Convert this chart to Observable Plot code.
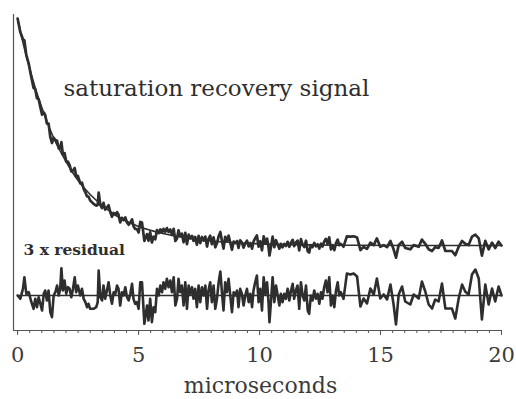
<!DOCTYPE html>
<html>
<head>
<meta charset="utf-8">
<script src="https://cdn.jsdelivr.net/npm/d3@7"></script>
<script src="https://cdn.jsdelivr.net/npm/@observablehq/plot@0.6"></script>
<style>
  html, body { margin: 0; padding: 0; background: #ffffff; }
  #chart svg { display: block; }
</style>
</head>
<body>
<div id="chart"></div>
<script>
// ---- data (arbitrary signal units; baseline 0) ----
// fitted exponential recovery curve (read at sample times)
const fitT = [0, 0.25, 0.5, 0.75, 1, 1.5, 2, 2.5, 3, 3.5, 4, 5, 6, 7, 8, 9, 10, 12, 14, 16, 18, 20];
const fitV = [227, 200, 177, 156, 138, 107, 84, 65, 51, 40, 31, 19, 12, 7.5, 4.5, 2.8, 1.6, 0.6, 0.2, 0, 0, 0];

// sample times (microseconds) shared by signal and residual
const times = [0, 0.11, 0.22, 0.28, 0.36, 0.46, 0.55, 0.66, 0.73, 0.80, 0.87, 0.94, 1.01, 1.08, 1.14, 1.21, 1.28, 1.35, 1.42, 1.49, 1.56, 1.63, 1.70, 1.76, 1.81, 1.87, 1.94, 2.01, 2.08, 2.15, 2.22, 2.29, 2.36, 2.42, 2.49, 2.59, 2.66, 2.73, 2.80, 2.87, 2.93, 3.00, 3.14, 3.25, 3.31, 3.35, 3.42, 3.49, 3.55, 3.62, 3.69, 3.76, 3.83, 3.90, 3.97, 4.04, 4.11, 4.17, 4.24, 4.31, 4.38, 4.45, 4.52, 4.59, 4.66, 4.73, 4.79, 4.86, 4.93, 5.00, 5.07, 5.14, 5.24, 5.35, 5.41, 5.48, 5.55, 5.62, 5.69, 5.76, 5.83, 5.90, 5.97, 6.03, 6.10, 6.17, 6.24, 6.31, 6.38, 6.45, 6.52, 6.59, 6.65, 6.72, 6.79, 6.86, 6.93, 7.00, 7.07, 7.14, 7.21, 7.27, 7.34, 7.41, 7.48, 7.55, 7.62, 7.69, 7.76, 7.83, 7.89, 7.96, 8.03, 8.10, 8.17, 8.24, 8.31, 8.38, 8.45, 8.51, 8.58, 8.65, 8.72, 8.79, 8.86, 8.93, 9.00, 9.07, 9.13, 9.20, 9.27, 9.34, 9.41, 9.48, 9.55, 9.62, 9.69, 9.75, 9.82, 9.89, 9.96, 10.03, 10.10, 10.17, 10.24, 10.31, 10.37, 10.41, 10.48, 10.54, 10.61, 10.68, 10.75, 10.82, 10.88, 10.95, 11.02, 11.09, 11.16, 11.23, 11.30, 11.37, 11.43, 11.50, 11.57, 11.64, 11.71, 11.78, 11.85, 11.92, 11.99, 12.05, 12.12, 12.19, 12.26, 12.33, 12.40, 12.47, 12.54, 12.60, 12.67, 12.74, 12.81, 12.88, 12.95, 13.02, 13.09, 13.16, 13.23, 13.29, 13.36, 13.47, 13.61, 13.75, 13.89, 14.03, 14.17, 14.30, 14.44, 14.58, 14.72, 14.85, 14.99, 15.13, 15.27, 15.41, 15.54, 15.64, 15.75, 15.89, 16.02, 16.23, 16.37, 16.58, 16.71, 16.85, 16.99, 17.13, 17.26, 17.40, 17.54, 17.68, 17.82, 17.95, 18.09, 18.23, 18.37, 18.50, 18.64, 18.78, 18.92, 19.06, 19.19, 19.33, 19.47, 19.61, 19.74, 19.88, 20.00];

// measured saturation recovery signal
const signal = [227, 213.5, 206.2, 205.1, 190.3, 181.8, 170.3, 157.6, 156.2, 147.3, 146.2, 138.4, 130.7, 133.0, 130.5, 121.9, 121.8, 108.6, 102.5, 107.8, 105.5, 104.7, 97.0, 97.0, 103.3, 91.2, 92.4, 83.8, 83.8, 80.3, 74.1, 75.0, 77.5, 69.1, 69.6, 62.2, 62.8, 56.6, 53.2, 49.1, 49.0, 45.0, 41.6, 39.8, 40.6, 53.0, 40.4, 37.5, 42.7, 35.8, 38.0, 40.2, 33.5, 28.8, 32.6, 30.8, 33.3, 31.0, 23.0, 27.7, 25.4, 28.0, 23.0, 20.8, 22.8, 26.2, 19.3, 16.5, 16.5, 13.0, 23.6, 23.0, 4.6, 11.4, 4.7, 13.3, 3.0, 8.8, 6.2, 15.5, 12.3, 16.1, 12.9, 16.7, 13.6, 17.4, 13.5, 16.0, 10.7, 16.7, 4.5, 7.0, 15.2, 9.3, 11.8, 3.2, 12.7, 1.3, 10.8, 7.1, 9.7, 4.6, 8.6, 0.7, 9.6, 2.4, 8.5, 4.9, 8.9, -1.1, 6.5, 9.8, 1.3, 8.2, -1.8, 2.3, 9.2, 13.5, 4.0, -3.1, 8.7, 4.4, 9.9, 2.8, -4.3, 4.0, 2.5, 4.5, -2.5, 5.1, 2.9, -2.1, 2.1, 4.8, -0.9, 2.5, -3.1, 3.8, 7.3, 10.0, -1.2, 4.3, -4.8, 9.1, 2.1, 6.9, -1.5, -10.0, -0.2, 8.9, -1.7, 5.3, 1.1, -3.2, 1.7, -1.8, 1.6, -0.5, 3.7, -1.3, 2.9, 5.7, -0.6, 2.8, 4.9, -4.9, 6.3, 0.6, -1.5, 4.8, -5.7, -7.1, 0.5, -1.6, 2.6, -0.9, 1.2, -3.1, 1.8, -1.0, 3.9, 6.7, 1.8, 8.1, -3.9, 0.3, -4.6, 2.4, 5.9, 0.3, 1.7, -1.2, 9.2, 8.8, 9.2, 8.0, -4.6, -1.3, -3.4, 2.9, 0.4, 7.1, -1.3, 0.4, -1.7, 4.6, -3.8, -12.2, 0.4, 3.8, -2.5, -3.8, 0.4, -1.3, 5.9, 1.7, -3.8, -5.5, -1.7, -2.5, 5.0, -5.5, -5.5, -5.5, -9.7, -1.3, 4.6, 1.7, 0.4, 8.8, 10.9, 7.1, -10.1, 4.6, -3.8, 2.9, -2.5, 3.8, 0];

// 3 x residual (signal - fit), same units
const residual3x = [0, -3.3, 6.7, 18.3, 1.7, 3.3, -5, -13.3, -3.3, -11.7, -1.7, -8.3, -15, 1.7, 5, -5, 5, -16.7, -21.7, 0, 3.3, 10, 0, 6.7, 27.3, 5, 15, 1.7, 8.3, 6.7, -1.7, 6.7, 18.3, 3.3, 10, 0, 6.7, -3.3, -6.7, -11.7, -8.3, -13.3, -13.3, -11.7, -6.7, 25, -1.7, -5, 10, -3.3, 5, 13.3, 0, -8.3, 3.3, 1.7, 10, 6.7, -10, 3.3, 0, 8.3, -1.7, -5, 1.7, 11.7, -3.3, -8.3, -6.7, -13.3, 13.3, 13.3, -28.3, -10, -25, -3.3, -26.7, -11.7, -16.7, 6.7, 0, 10, 3.3, 13.3, 6.7, 16.7, 8.3, 15, 3.3, 18.3, -10, -3.3, 16.7, 3.3, 10, -10, 13.3, -13.3, 10, 1.7, 8.3, -3.3, 6.7, -11.7, 10, -6.7, 8.3, 0, 10, -13.3, 5, 13.3, -6.7, 10, -13.3, -3.3, 13.3, 24, 1.7, -15, 13.3, 3.3, 16.7, 0, -16.7, 3.3, 0, 5, -11.7, 6.7, 1.7, -10, 0, 6.7, -6.7, 1.7, -11.7, 5, 13.3, 20, -6.7, 6.7, -15, 18.3, 1.7, 13.3, -6.7, -26.7, -3.3, 18.3, -6.7, 10, 0, -10, 1.7, -6.7, 1.7, -3.3, 6.7, -5, 5, 11.7, -3.3, 5, 10, -13.3, 13.3, 0, -5, 10, -15, -18.3, 0, -5, 5, -3.3, 1.7, -8.3, 3.3, -3.3, 8.3, 15, 3.3, 18.3, -10, 0, -11.7, 5, 13.3, 0, 3.3, -3.3, 22, 21, 22, 19, -11, -3, -8, 7, 1, 17, -3, 1, -4, 11, -9, -29, 1, 9, -6, -9, 1, -3, 14, 4, -9, -13, -4, -6, 12, -13, -13, -13, -23, -3, 11, 4, 1, 21, 26, 17, -24, 11, -9, 7, -6, 9, 0];

const majorTicks = [0, 5, 10, 15, 20];
const minorTicks = d3.range(0, 20.001, 0.5);

// ---- layout constants ----
const xDomain = [-0.17, 20];
const yDomain = [-85, 231];
const residualOffset = -50;
const ink = "#2e2e2e";
const serif = "'DejaVu Serif', 'Liberation Serif', serif";

const fit = fitT.map((t, i) => ({t, v: fitV[i]}));
const sig = times.map((t, i) => ({t, v: signal[i]}));
const res = times.map((t, i) => ({t, v: residual3x[i]}));

const chart = Plot.plot({
  width: 516,
  height: 399,
  marginLeft: 13,
  marginRight: 15,
  marginTop: 14,
  marginBottom: 69,
  x: {domain: xDomain},
  y: {domain: yDomain, axis: null},
  style: {background: "#ffffff", fontFamily: serif, color: ink},
  marks: [
    Plot.ruleX([xDomain[0]], {stroke: "#555", strokeWidth: 1.2}),
    Plot.ruleY([yDomain[0]], {stroke: "#555", strokeWidth: 1.2}),
    Plot.axisX(minorTicks, {tickSize: 3, text: null, label: null, stroke: "#555"}),
    Plot.axisX(majorTicks, {tickSize: 5, tickPadding: 12, label: null, fontSize: 21, fill: "#3a3a3a", stroke: "#555", fontFamily: serif}),
    Plot.line(fit, {x: "t", y: "v", curve: "monotone-x", stroke: ink, strokeWidth: 1.6}),
    Plot.line(sig, {x: "t", y: "v", stroke: ink, strokeWidth: 2.7, strokeLinejoin: "round"}),
    Plot.ruleY([residualOffset], {x1: 0, x2: 20, stroke: ink, strokeWidth: 1.6}),
    Plot.line(res, {x: "t", y: d => d.v + residualOffset, stroke: ink, strokeWidth: 2.6, strokeLinejoin: "round"}),
    Plot.text(["saturation recovery signal"], {frameAnchor: "top-left", dx: 50, dy: 65, textAnchor: "start", lineAnchor: "top", fontSize: 23, fill: ink, fontFamily: serif}),
    Plot.text(["3 x residual"], {frameAnchor: "top-left", dx: 10, dy: 229, textAnchor: "start", lineAnchor: "top", fontSize: 15.5, fontWeight: "bold", fill: ink, fontFamily: serif}),
    Plot.text(["microseconds"], {frameAnchor: "bottom", dx: 3, dy: 47, lineAnchor: "top", fontSize: 22, fill: "#3a3a3a", fontFamily: serif})
  ]
});
document.getElementById("chart").appendChild(chart);
</script>
</body>
</html>
